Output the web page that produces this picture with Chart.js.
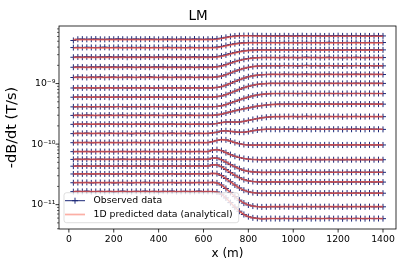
<!DOCTYPE html>
<html><head><meta charset="utf-8">
<script src="https://cdn.jsdelivr.net/npm/chart.js@4"></script>
<style>html,body{margin:0;padding:0;background:#fff;overflow:hidden}</style>
</head><body>
<canvas id="c" width="407" height="271"></canvas>
<script>
// ---------- data ----------
const xObs = [20,40,60,80,100,120,140,160,180,200,220,240,260,280,300,320,340,360,380,400,
  420,440,460,480,500,520,540,560,580,600,620,640,660,680,700,720,740,760,780,800,
  820,840,860,880,900,920,940,960,980,1000,1020,1040,1060,1080,1100,1120,1140,1160,1180,1200,
  1220,1240,1260,1280,1300,1320,1340,1360,1380,1400];
const xPred = [20,100,200,300,400,500,600,620,640,660,680,700,720,740,760,780,800,820,840,860,880,900,920,1000,1100,1200,1300,1400];

const obs01 = [5.15e-9,5.40e-9,5.42e-9,5.38e-9,5.41e-9,5.44e-9,5.39e-9,5.37e-9,5.42e-9,5.40e-9,5.45e-9,5.41e-9,5.38e-9,5.40e-9,5.43e-9,5.39e-9,5.41e-9,5.44e-9,5.40e-9,5.37e-9,5.41e-9,5.43e-9,5.40e-9,5.38e-9,5.42e-9,5.41e-9,5.39e-9,5.44e-9,5.40e-9,5.38e-9,5.41e-9,
  5.40e-9,5.47e-9,5.62e-9,5.80e-9,5.99e-9,6.11e-9,6.19e-9,6.21e-9,6.21e-9,6.19e-9,6.17e-9,6.15e-9,6.14e-9,6.13e-9,
  6.15e-9,6.12e-9,6.16e-9,6.13e-9,6.11e-9,6.15e-9,6.17e-9,6.12e-9,6.14e-9,6.16e-9,6.13e-9,6.11e-9,6.15e-9,6.14e-9,6.18e-9,6.13e-9,6.12e-9,6.15e-9,6.16e-9,6.13e-9,6.14e-9,6.11e-9,6.15e-9,6.13e-9,6.12e-9];
const obs02 = [3.93e-9,3.96e-9,3.94e-9,3.97e-9,3.95e-9,3.93e-9,3.96e-9,3.98e-9,3.94e-9,3.95e-9,3.97e-9,3.93e-9,3.95e-9,3.96e-9,3.94e-9,3.97e-9,3.95e-9,3.93e-9,3.96e-9,3.94e-9,3.95e-9,3.98e-9,3.94e-9,3.96e-9,3.95e-9,3.93e-9,3.97e-9,3.95e-9,3.94e-9,3.96e-9,3.95e-9,
  3.95e-9,3.99e-9,4.10e-9,4.26e-9,4.42e-9,4.55e-9,4.66e-9,4.73e-9,4.77e-9,4.78e-9,4.77e-9,4.76e-9,4.77e-9,4.78e-9,
  4.77e-9,4.75e-9,4.79e-9,4.76e-9,4.78e-9,4.74e-9,4.77e-9,4.79e-9,4.76e-9,4.78e-9,4.75e-9,4.77e-9,4.80e-9,4.76e-9,4.77e-9,4.75e-9,4.78e-9,4.76e-9,4.79e-9,4.77e-9,4.75e-9,4.78e-9,4.76e-9,4.77e-9,4.76e-9];
const obs03 = [2.72e-9,2.75e-9,2.73e-9,2.76e-9,2.74e-9,2.72e-9,2.75e-9,2.74e-9,2.77e-9,2.73e-9,2.74e-9,2.76e-9,2.72e-9,2.75e-9,2.74e-9,2.73e-9,2.76e-9,2.74e-9,2.72e-9,2.75e-9,2.74e-9,2.77e-9,2.73e-9,2.74e-9,2.75e-9,2.72e-9,2.74e-9,2.76e-9,2.73e-9,2.75e-9,2.74e-9,
  2.74e-9,2.78e-9,2.86e-9,2.98e-9,3.13e-9,3.26e-9,3.38e-9,3.47e-9,3.54e-9,3.58e-9,3.61e-9,3.62e-9,3.61e-9,3.60e-9,
  3.61e-9,3.59e-9,3.63e-9,3.60e-9,3.62e-9,3.58e-9,3.61e-9,3.64e-9,3.60e-9,3.62e-9,3.59e-9,3.61e-9,3.63e-9,3.60e-9,3.61e-9,3.58e-9,3.62e-9,3.60e-9,3.63e-9,3.61e-9,3.59e-9,3.62e-9,3.60e-9,3.61e-9,3.60e-9];
const obs04 = [1.86e-9,1.88e-9,1.87e-9,1.85e-9,1.88e-9,1.87e-9,1.89e-9,1.86e-9,1.87e-9,1.88e-9,1.86e-9,1.87e-9,1.89e-9,1.87e-9,1.85e-9,1.88e-9,1.87e-9,1.86e-9,1.88e-9,1.87e-9,1.89e-9,1.86e-9,1.87e-9,1.88e-9,1.86e-9,1.87e-9,1.88e-9,1.85e-9,1.87e-9,1.88e-9,1.87e-9,
  1.87e-9,1.90e-9,1.96e-9,2.06e-9,2.18e-9,2.31e-9,2.42e-9,2.52e-9,2.59e-9,2.65e-9,2.68e-9,2.70e-9,2.71e-9,2.70e-9,
  2.70e-9,2.68e-9,2.72e-9,2.69e-9,2.71e-9,2.67e-9,2.70e-9,2.73e-9,2.69e-9,2.71e-9,2.68e-9,2.70e-9,2.72e-9,2.69e-9,2.70e-9,2.67e-9,2.71e-9,2.69e-9,2.72e-9,2.70e-9,2.68e-9,2.71e-9,2.69e-9,2.70e-9,2.69e-9];
const obs05 = [1.26e-9,1.28e-9,1.27e-9,1.26e-9,1.28e-9,1.27e-9,1.29e-9,1.26e-9,1.27e-9,1.28e-9,1.26e-9,1.27e-9,1.28e-9,1.27e-9,1.26e-9,1.28e-9,1.27e-9,1.29e-9,1.27e-9,1.26e-9,1.28e-9,1.27e-9,1.26e-9,1.28e-9,1.27e-9,1.27e-9,1.28e-9,1.26e-9,1.27e-9,1.28e-9,1.27e-9,
  1.27e-9,1.29e-9,1.33e-9,1.40e-9,1.49e-9,1.60e-9,1.69e-9,1.78e-9,1.85e-9,1.91e-9,1.94e-9,1.96e-9,1.97e-9,1.97e-9,
  1.97e-9,1.96e-9,1.99e-9,1.97e-9,1.98e-9,1.95e-9,1.97e-9,2.00e-9,1.96e-9,1.98e-9,1.96e-9,1.97e-9,1.99e-9,1.96e-9,1.97e-9,1.95e-9,1.98e-9,1.96e-9,1.99e-9,1.97e-9,1.96e-9,1.98e-9,1.96e-9,1.97e-9,1.96e-9];
const obs06 = [8.45e-10,8.52e-10,8.48e-10,8.55e-10,8.47e-10,8.43e-10,8.51e-10,8.49e-10,8.56e-10,8.46e-10,8.50e-10,8.53e-10,8.44e-10,8.49e-10,8.52e-10,8.47e-10,8.55e-10,8.48e-10,8.43e-10,8.51e-10,8.49e-10,8.54e-10,8.46e-10,8.50e-10,8.52e-10,8.45e-10,8.49e-10,8.53e-10,8.47e-10,8.50e-10,8.49e-10,
  8.49e-10,8.62e-10,8.89e-10,9.41e-10,10.06e-10,10.82e-10,11.56e-10,12.29e-10,12.95e-10,13.42e-10,13.77e-10,13.98e-10,14.13e-10,14.20e-10,
  14.20e-10,14.10e-10,14.30e-10,14.15e-10,14.25e-10,14.05e-10,14.20e-10,14.35e-10,14.10e-10,14.25e-10,14.15e-10,14.20e-10,14.30e-10,14.10e-10,14.20e-10,14.05e-10,14.25e-10,14.15e-10,14.30e-10,14.20e-10,14.10e-10,14.25e-10,14.15e-10,14.20e-10,14.10e-10];
const obs07 = [5.95e-10,6.00e-10,5.96e-10,6.02e-10,5.94e-10,5.98e-10,5.97e-10,6.01e-10,5.93e-10,5.97e-10,6.00e-10,5.95e-10,5.99e-10,5.96e-10,6.02e-10,5.97e-10,5.94e-10,5.99e-10,5.97e-10,6.01e-10,5.95e-10,5.98e-10,5.96e-10,6.00e-10,5.97e-10,5.94e-10,5.99e-10,5.97e-10,6.01e-10,5.96e-10,5.97e-10,
  5.97e-10,6.07e-10,6.23e-10,6.56e-10,6.99e-10,7.49e-10,8.01e-10,8.54e-10,9.00e-10,9.39e-10,9.69e-10,9.90e-10,10.00e-10,10.10e-10,
  10.10e-10,10.05e-10,10.15e-10,10.08e-10,10.12e-10,10.03e-10,10.10e-10,10.18e-10,10.06e-10,10.12e-10,10.08e-10,10.10e-10,10.15e-10,10.05e-10,10.10e-10,10.02e-10,10.13e-10,10.07e-10,10.15e-10,10.10e-10,10.05e-10,10.12e-10,10.08e-10,10.10e-10,10.06e-10];
const obs08 = [4.12e-10,4.15e-10,4.13e-10,4.17e-10,4.11e-10,4.14e-10,4.16e-10,4.12e-10,4.15e-10,4.13e-10,4.18e-10,4.14e-10,4.11e-10,4.15e-10,4.13e-10,4.16e-10,4.12e-10,4.14e-10,4.17e-10,4.13e-10,4.15e-10,4.11e-10,4.14e-10,4.16e-10,4.13e-10,4.15e-10,4.12e-10,4.14e-10,4.17e-10,4.13e-10,4.14e-10,
  4.14e-10,4.18e-10,4.29e-10,4.49e-10,4.77e-10,5.06e-10,5.38e-10,5.69e-10,5.98e-10,6.26e-10,6.48e-10,6.65e-10,6.75e-10,6.82e-10,
  6.85e-10,6.82e-10,6.88e-10,6.84e-10,6.87e-10,6.81e-10,6.85e-10,6.90e-10,6.83e-10,6.87e-10,6.84e-10,6.85e-10,6.89e-10,6.82e-10,6.86e-10,6.80e-10,6.87e-10,6.84e-10,6.88e-10,6.85e-10,6.82e-10,6.87e-10,6.84e-10,6.85e-10,6.83e-10];
const obs09 = [2.98e-10,3.01e-10,2.97e-10,3.02e-10,2.99e-10,2.96e-10,3.00e-10,2.98e-10,3.03e-10,2.97e-10,2.99e-10,3.01e-10,2.96e-10,3.00e-10,2.98e-10,3.02e-10,2.97e-10,2.99e-10,3.01e-10,2.98e-10,2.96e-10,3.00e-10,2.99e-10,3.02e-10,2.97e-10,2.99e-10,3.01e-10,2.98e-10,2.97e-10,3.00e-10,2.99e-10,
  2.99e-10,3.03e-10,3.12e-10,3.26e-10,3.40e-10,3.55e-10,3.70e-10,3.83e-10,3.96e-10,4.10e-10,4.23e-10,4.33e-10,4.42e-10,4.50e-10,
  4.54e-10,4.58e-10,4.56e-10,4.60e-10,4.57e-10,4.55e-10,4.59e-10,4.62e-10,4.57e-10,4.59e-10,4.56e-10,4.58e-10,4.61e-10,4.56e-10,4.58e-10,4.55e-10,4.60e-10,4.57e-10,4.60e-10,4.58e-10,4.56e-10,4.59e-10,4.57e-10,4.58e-10,4.57e-10];
const obs10 = [2.12e-10,2.14e-10,2.13e-10,2.15e-10,2.11e-10,2.13e-10,2.14e-10,2.12e-10,2.15e-10,2.13e-10,2.12e-10,2.14e-10,2.13e-10,2.11e-10,2.14e-10,2.13e-10,2.15e-10,2.12e-10,2.13e-10,2.14e-10,2.12e-10,2.13e-10,2.15e-10,2.12e-10,2.13e-10,2.14e-10,2.11e-10,2.13e-10,2.14e-10,2.12e-10,2.13e-10,
  2.15e-10,2.19e-10,2.27e-10,2.32e-10,2.32e-10,2.31e-10,2.32e-10,2.38e-10,2.46e-10,2.55e-10,2.64e-10,2.72e-10,2.78e-10,2.82e-10,
  2.85e-10,2.84e-10,2.86e-10,2.85e-10,2.87e-10,2.83e-10,2.85e-10,2.88e-10,2.84e-10,2.86e-10,2.85e-10,2.84e-10,2.87e-10,2.85e-10,2.86e-10,2.83e-10,2.86e-10,2.85e-10,2.87e-10,2.85e-10,2.84e-10,2.86e-10,2.85e-10,2.85e-10,2.84e-10];
const obs11 = [1.49e-10,1.51e-10,1.50e-10,1.52e-10,1.49e-10,1.50e-10,1.51e-10,1.49e-10,1.52e-10,1.50e-10,1.49e-10,1.51e-10,1.50e-10,1.48e-10,1.51e-10,1.50e-10,1.52e-10,1.49e-10,1.50e-10,1.51e-10,1.49e-10,1.50e-10,1.52e-10,1.49e-10,1.50e-10,1.51e-10,1.48e-10,1.50e-10,1.51e-10,1.49e-10,1.50e-10,
  1.535e-10,1.57e-10,1.645e-10,1.66e-10,1.625e-10,1.59e-10,1.57e-10,1.57e-10,1.61e-10,1.66e-10,1.71e-10,1.74e-10,1.76e-10,1.76e-10,
  1.76e-10,1.75e-10,1.77e-10,1.76e-10,1.78e-10,1.75e-10,1.76e-10,1.78e-10,1.75e-10,1.77e-10,1.76e-10,1.75e-10,1.77e-10,1.76e-10,1.77e-10,1.74e-10,1.77e-10,1.76e-10,1.78e-10,1.76e-10,1.75e-10,1.77e-10,1.76e-10,1.76e-10,1.75e-10];
const obs12 = [10.55e-11,10.65e-11,10.60e-11,10.70e-11,10.52e-11,10.60e-11,10.66e-11,10.55e-11,10.68e-11,10.58e-11,10.62e-11,10.54e-11,10.65e-11,10.60e-11,10.70e-11,10.56e-11,10.62e-11,10.58e-11,10.66e-11,10.53e-11,10.60e-11,10.64e-11,10.57e-11,10.68e-11,10.60e-11,10.55e-11,10.63e-11,10.60e-11,10.66e-11,10.57e-11,10.60e-11,
  10.97e-11,11.49e-11,11.89e-11,11.76e-11,11.22e-11,10.60e-11,10.12e-11,9.83e-11,9.67e-11,9.62e-11,9.65e-11,9.69e-11,9.70e-11,9.70e-11,
  9.70e-11,9.66e-11,9.74e-11,9.69e-11,9.72e-11,9.65e-11,9.70e-11,9.76e-11,9.68e-11,9.72e-11,9.67e-11,9.70e-11,9.75e-11,9.68e-11,9.71e-11,9.64e-11,9.72e-11,9.68e-11,9.74e-11,9.70e-11,9.66e-11,9.72e-11,9.69e-11,9.70e-11,9.68e-11];
const obs13 = [7.50e-11,7.56e-11,7.52e-11,7.58e-11,7.49e-11,7.53e-11,7.57e-11,7.51e-11,7.55e-11,7.48e-11,7.54e-11,7.58e-11,7.52e-11,7.50e-11,7.56e-11,7.53e-11,7.59e-11,7.51e-11,7.54e-11,7.49e-11,7.55e-11,7.52e-11,7.57e-11,7.50e-11,7.53e-11,7.56e-11,7.51e-11,7.54e-11,7.58e-11,7.52e-11,7.53e-11,
  7.97e-11,8.11e-11,7.82e-11,7.23e-11,6.71e-11,6.30e-11,6.01e-11,5.79e-11,5.65e-11,5.57e-11,5.54e-11,5.51e-11,5.52e-11,5.53e-11,
  5.53e-11,5.51e-11,5.55e-11,5.52e-11,5.54e-11,5.50e-11,5.53e-11,5.57e-11,5.52e-11,5.54e-11,5.51e-11,5.53e-11,5.56e-11,5.52e-11,5.53e-11,5.49e-11,5.54e-11,5.52e-11,5.55e-11,5.53e-11,5.51e-11,5.54e-11,5.52e-11,5.53e-11,5.52e-11];
const obs14 = [5.59e-11,5.63e-11,5.60e-11,5.65e-11,5.58e-11,5.61e-11,5.64e-11,5.59e-11,5.62e-11,5.57e-11,5.61e-11,5.65e-11,5.60e-11,5.58e-11,5.63e-11,5.61e-11,5.66e-11,5.59e-11,5.62e-11,5.57e-11,5.63e-11,5.60e-11,5.64e-11,5.58e-11,5.61e-11,5.63e-11,5.59e-11,5.62e-11,5.65e-11,5.60e-11,5.61e-11,
  5.87e-11,5.89e-11,5.53e-11,5.04e-11,4.59e-11,4.22e-11,3.92e-11,3.69e-11,3.55e-11,3.47e-11,3.44e-11,3.41e-11,3.42e-11,3.43e-11,
  3.43e-11,3.41e-11,3.45e-11,3.42e-11,3.44e-11,3.40e-11,3.43e-11,3.46e-11,3.42e-11,3.44e-11,3.41e-11,3.43e-11,3.45e-11,3.42e-11,3.43e-11,3.40e-11,3.44e-11,3.42e-11,3.45e-11,3.43e-11,3.41e-11,3.44e-11,3.42e-11,3.43e-11,3.42e-11];
const obs15 = [4.32e-11,4.36e-11,4.33e-11,4.37e-11,4.31e-11,4.34e-11,4.36e-11,4.32e-11,4.35e-11,4.30e-11,4.34e-11,4.37e-11,4.33e-11,4.31e-11,4.36e-11,4.34e-11,4.38e-11,4.32e-11,4.35e-11,4.31e-11,4.35e-11,4.33e-11,4.37e-11,4.31e-11,4.34e-11,4.36e-11,4.32e-11,4.35e-11,4.37e-11,4.33e-11,4.34e-11,
  4.54e-11,4.54e-11,4.23e-11,3.80e-11,3.39e-11,3.06e-11,2.79e-11,2.59e-11,2.47e-11,2.41e-11,2.38e-11,2.36e-11,2.36e-11,2.37e-11,
  2.37e-11,2.36e-11,2.38e-11,2.36e-11,2.38e-11,2.35e-11,2.37e-11,2.39e-11,2.36e-11,2.38e-11,2.36e-11,2.37e-11,2.39e-11,2.36e-11,2.37e-11,2.35e-11,2.38e-11,2.36e-11,2.38e-11,2.37e-11,2.36e-11,2.38e-11,2.36e-11,2.37e-11,2.36e-11];
const obs16 = [3.21e-11,3.23e-11,3.22e-11,3.25e-11,3.20e-11,3.22e-11,3.24e-11,3.21e-11,3.23e-11,3.19e-11,3.22e-11,3.25e-11,3.21e-11,3.20e-11,3.24e-11,3.22e-11,3.26e-11,3.21e-11,3.23e-11,3.20e-11,3.24e-11,3.22e-11,3.25e-11,3.20e-11,3.22e-11,3.24e-11,3.21e-11,3.23e-11,3.25e-11,3.21e-11,3.22e-11,
  3.29e-11,3.25e-11,3.03e-11,2.70e-11,2.39e-11,2.11e-11,1.89e-11,1.73e-11,1.63e-11,1.58e-11,1.556e-11,1.54e-11,1.545e-11,1.55e-11,
  1.55e-11,1.54e-11,1.56e-11,1.545e-11,1.555e-11,1.535e-11,1.55e-11,1.565e-11,1.54e-11,1.555e-11,1.545e-11,1.55e-11,1.56e-11,1.54e-11,1.55e-11,1.535e-11,1.555e-11,1.545e-11,1.56e-11,1.55e-11,1.54e-11,1.555e-11,1.545e-11,1.55e-11,1.545e-11];
const obs17 = [2.30e-11,2.32e-11,2.31e-11,2.33e-11,2.29e-11,2.31e-11,2.32e-11,2.30e-11,2.33e-11,2.29e-11,2.31e-11,2.33e-11,2.30e-11,2.29e-11,2.32e-11,2.31e-11,2.34e-11,2.30e-11,2.32e-11,2.29e-11,2.32e-11,2.31e-11,2.33e-11,2.29e-11,2.31e-11,2.32e-11,2.30e-11,2.31e-11,2.33e-11,2.30e-11,2.31e-11,
  2.34e-11,2.29e-11,2.11e-11,1.85e-11,1.59e-11,1.36e-11,1.185e-11,1.06e-11,0.986e-11,0.947e-11,0.929e-11,0.917e-11,0.921e-11,0.925e-11,
  0.925e-11,0.920e-11,0.930e-11,0.922e-11,0.928e-11,0.918e-11,0.925e-11,0.932e-11,0.921e-11,0.927e-11,0.922e-11,0.925e-11,0.930e-11,0.921e-11,0.926e-11,0.917e-11,0.927e-11,0.923e-11,0.929e-11,0.925e-11,0.920e-11,0.927e-11,0.922e-11,0.925e-11,0.921e-11];
const obs18 = [1.64e-11,1.66e-11,1.65e-11,1.67e-11,1.64e-11,1.65e-11,1.66e-11,1.64e-11,1.66e-11,1.63e-11,1.65e-11,1.67e-11,1.64e-11,1.64e-11,1.66e-11,1.65e-11,1.67e-11,1.64e-11,1.66e-11,1.63e-11,1.66e-11,1.65e-11,1.67e-11,1.64e-11,1.65e-11,1.66e-11,1.64e-11,1.65e-11,1.67e-11,1.64e-11,1.65e-11,
  1.65e-11,1.62e-11,1.49e-11,1.29e-11,1.08e-11,0.909e-11,0.779e-11,0.688e-11,0.634e-11,0.605e-11,0.594e-11,0.584e-11,0.587e-11,0.590e-11,
  0.590e-11,0.586e-11,0.594e-11,0.588e-11,0.592e-11,0.585e-11,0.590e-11,0.596e-11,0.587e-11,0.592e-11,0.588e-11,0.590e-11,0.595e-11,0.587e-11,0.591e-11,0.584e-11,0.592e-11,0.588e-11,0.594e-11,0.590e-11,0.586e-11,0.592e-11,0.588e-11,0.590e-11,0.587e-11];

const pred01 = [5.30e-9,5.30e-9,5.30e-9,5.30e-9,5.30e-9,5.30e-9,5.30e-9,5.30e-9,5.32e-9,5.40e-9,5.55e-9,5.73e-9,5.92e-9,6.04e-9,6.11e-9,6.13e-9,6.12e-9,6.10e-9,6.08e-9,6.06e-9,6.05e-9,6.05e-9,6.05e-9,6.05e-9,6.05e-9,6.05e-9,6.05e-9,6.05e-9];
const pred02 = [3.88e-9,3.88e-9,3.88e-9,3.88e-9,3.88e-9,3.88e-9,3.88e-9,3.88e-9,3.88e-9,3.93e-9,4.04e-9,4.20e-9,4.36e-9,4.49e-9,4.60e-9,4.67e-9,4.71e-9,4.72e-9,4.71e-9,4.70e-9,4.70e-9,4.70e-9,4.70e-9,4.70e-9,4.70e-9,4.70e-9,4.70e-9,4.70e-9];
const pred03 = [2.70e-9,2.70e-9,2.70e-9,2.70e-9,2.70e-9,2.70e-9,2.70e-9,2.70e-9,2.70e-9,2.74e-9,2.82e-9,2.94e-9,3.09e-9,3.22e-9,3.34e-9,3.43e-9,3.50e-9,3.54e-9,3.56e-9,3.57e-9,3.56e-9,3.56e-9,3.56e-9,3.56e-9,3.56e-9,3.56e-9,3.56e-9,3.56e-9];
const pred04 = [1.85e-9,1.85e-9,1.85e-9,1.85e-9,1.85e-9,1.85e-9,1.85e-9,1.85e-9,1.85e-9,1.88e-9,1.94e-9,2.04e-9,2.16e-9,2.29e-9,2.40e-9,2.50e-9,2.57e-9,2.63e-9,2.66e-9,2.68e-9,2.68e-9,2.68e-9,2.68e-9,2.68e-9,2.68e-9,2.68e-9,2.68e-9,2.68e-9];
const pred05 = [1.27e-9,1.27e-9,1.27e-9,1.27e-9,1.27e-9,1.27e-9,1.27e-9,1.27e-9,1.27e-9,1.29e-9,1.33e-9,1.40e-9,1.49e-9,1.60e-9,1.69e-9,1.78e-9,1.85e-9,1.91e-9,1.94e-9,1.96e-9,1.97e-9,1.97e-9,1.97e-9,1.97e-9,1.97e-9,1.97e-9,1.97e-9,1.97e-9];
const pred06 = [8.49e-10,8.49e-10,8.49e-10,8.49e-10,8.49e-10,8.49e-10,8.49e-10,8.49e-10,8.49e-10,8.62e-10,8.89e-10,9.41e-10,10.06e-10,10.82e-10,11.56e-10,12.29e-10,12.95e-10,13.42e-10,13.77e-10,13.98e-10,14.13e-10,14.20e-10,14.20e-10,14.20e-10,14.20e-10,14.20e-10,14.20e-10,14.20e-10];
const pred07 = [5.97e-10,5.97e-10,5.97e-10,5.97e-10,5.97e-10,5.97e-10,5.97e-10,5.97e-10,5.97e-10,6.07e-10,6.23e-10,6.56e-10,6.99e-10,7.49e-10,8.01e-10,8.54e-10,9.00e-10,9.39e-10,9.69e-10,9.90e-10,10.00e-10,10.10e-10,10.10e-10,10.10e-10,10.10e-10,10.10e-10,10.10e-10,10.10e-10];
const pred08 = [4.14e-10,4.14e-10,4.14e-10,4.14e-10,4.14e-10,4.14e-10,4.14e-10,4.14e-10,4.14e-10,4.18e-10,4.29e-10,4.49e-10,4.77e-10,5.06e-10,5.38e-10,5.69e-10,5.98e-10,6.26e-10,6.48e-10,6.65e-10,6.75e-10,6.82e-10,6.85e-10,6.85e-10,6.85e-10,6.85e-10,6.85e-10,6.85e-10];
const pred09 = [2.99e-10,2.99e-10,2.99e-10,2.99e-10,2.99e-10,2.99e-10,2.99e-10,2.99e-10,2.99e-10,3.03e-10,3.12e-10,3.26e-10,3.40e-10,3.55e-10,3.70e-10,3.83e-10,3.96e-10,4.10e-10,4.23e-10,4.33e-10,4.42e-10,4.50e-10,4.54e-10,4.58e-10,4.58e-10,4.58e-10,4.58e-10,4.58e-10];
const pred10 = [2.13e-10,2.13e-10,2.13e-10,2.13e-10,2.13e-10,2.13e-10,2.13e-10,2.13e-10,2.15e-10,2.19e-10,2.27e-10,2.32e-10,2.32e-10,2.31e-10,2.32e-10,2.38e-10,2.46e-10,2.55e-10,2.64e-10,2.72e-10,2.78e-10,2.82e-10,2.85e-10,2.85e-10,2.85e-10,2.85e-10,2.85e-10,2.85e-10];
const pred11 = [1.50e-10,1.50e-10,1.50e-10,1.50e-10,1.50e-10,1.50e-10,1.50e-10,1.50e-10,1.535e-10,1.57e-10,1.645e-10,1.66e-10,1.625e-10,1.59e-10,1.57e-10,1.57e-10,1.61e-10,1.66e-10,1.71e-10,1.74e-10,1.76e-10,1.76e-10,1.76e-10,1.76e-10,1.76e-10,1.76e-10,1.76e-10,1.76e-10];
const pred12 = [10.6e-11,10.6e-11,10.6e-11,10.6e-11,10.6e-11,10.6e-11,10.6e-11,10.6e-11,10.97e-11,11.49e-11,11.89e-11,11.76e-11,11.22e-11,10.60e-11,10.12e-11,9.83e-11,9.67e-11,9.62e-11,9.65e-11,9.69e-11,9.70e-11,9.70e-11,9.70e-11,9.70e-11,9.70e-11,9.70e-11,9.70e-11,9.70e-11];
const pred13 = [7.53e-11,7.53e-11,7.53e-11,7.53e-11,7.53e-11,7.53e-11,7.53e-11,7.53e-11,7.97e-11,8.11e-11,7.82e-11,7.23e-11,6.71e-11,6.30e-11,6.01e-11,5.79e-11,5.65e-11,5.57e-11,5.54e-11,5.51e-11,5.52e-11,5.53e-11,5.53e-11,5.53e-11,5.53e-11,5.53e-11,5.53e-11,5.53e-11];
const pred14 = [5.61e-11,5.61e-11,5.61e-11,5.61e-11,5.61e-11,5.61e-11,5.61e-11,5.61e-11,5.87e-11,5.89e-11,5.53e-11,5.04e-11,4.59e-11,4.22e-11,3.92e-11,3.69e-11,3.55e-11,3.47e-11,3.44e-11,3.41e-11,3.42e-11,3.43e-11,3.43e-11,3.43e-11,3.43e-11,3.43e-11,3.43e-11,3.43e-11];
const pred15 = [4.34e-11,4.34e-11,4.34e-11,4.34e-11,4.34e-11,4.34e-11,4.34e-11,4.34e-11,4.54e-11,4.54e-11,4.23e-11,3.80e-11,3.39e-11,3.06e-11,2.79e-11,2.59e-11,2.47e-11,2.41e-11,2.38e-11,2.36e-11,2.36e-11,2.37e-11,2.37e-11,2.37e-11,2.37e-11,2.37e-11,2.37e-11,2.37e-11];
const pred16 = [3.22e-11,3.22e-11,3.22e-11,3.22e-11,3.22e-11,3.22e-11,3.22e-11,3.22e-11,3.29e-11,3.25e-11,3.03e-11,2.70e-11,2.39e-11,2.11e-11,1.89e-11,1.73e-11,1.63e-11,1.58e-11,1.556e-11,1.54e-11,1.545e-11,1.55e-11,1.55e-11,1.55e-11,1.55e-11,1.55e-11,1.55e-11,1.55e-11];
const pred17 = [2.31e-11,2.31e-11,2.31e-11,2.31e-11,2.31e-11,2.31e-11,2.31e-11,2.31e-11,2.34e-11,2.29e-11,2.11e-11,1.85e-11,1.59e-11,1.36e-11,1.185e-11,1.06e-11,0.986e-11,0.947e-11,0.929e-11,0.917e-11,0.921e-11,0.925e-11,0.925e-11,0.925e-11,0.925e-11,0.925e-11,0.925e-11,0.925e-11];
const pred18 = [1.65e-11,1.65e-11,1.65e-11,1.65e-11,1.65e-11,1.65e-11,1.65e-11,1.65e-11,1.65e-11,1.62e-11,1.49e-11,1.29e-11,1.08e-11,0.909e-11,0.779e-11,0.688e-11,0.634e-11,0.605e-11,0.594e-11,0.584e-11,0.587e-11,0.590e-11,0.590e-11,0.590e-11,0.590e-11,0.590e-11,0.590e-11,0.590e-11];

const obsSeries = [obs01,obs02,obs03,obs04,obs05,obs06,obs07,obs08,obs09,obs10,obs11,obs12,obs13,obs14,obs15,obs16,obs17,obs18];
const predSeries = [pred01,pred02,pred03,pred04,pred05,pred06,pred07,pred08,pred09,pred10,pred11,pred12,pred13,pred14,pred15,pred16,pred17,pred18];

const xTicks = [0,200,400,600,800,1000,1200,1400];
const xTickLabels = ['0','200','400','600','800','1000','1200','1400'];
const yMajorTicks = [1e-11,1e-10,1e-9];
const yMajorLabels = ['10\u207B\u00B9\u00B9','10\u207B\u00B9\u2070','10\u207B\u2079'];
const yMinorTicks = [4e-12,5e-12,6e-12,7e-12,8e-12,9e-12,2e-11,3e-11,4e-11,5e-11,6e-11,7e-11,8e-11,9e-11,
  2e-10,3e-10,4e-10,5e-10,6e-10,7e-10,8e-10,9e-10,2e-9,3e-9,4e-9,5e-9,6e-9,7e-9,8e-9];
const legendLabels = ['Observed data','1D predicted data (analytical)'];
const titleText = 'LM';
const xTitle = 'x (m)';
const yTitle = '-dB/dt (T/s)';

// ---------- styles ----------
const NAVY = 'rgb(28,40,120)';
const SALMON = 'rgba(248,88,68,0.72)';
const SALMON_LEG = 'rgba(250,95,75,0.5)';
const FONT = 'DejaVu Sans';

const datasets = [];
obsSeries.forEach((s) => {
  datasets.push({
    label: legendLabels[0],
    data: xObs.map((x, i) => ({x, y: s[i]})),
    borderColor: NAVY, borderWidth: 1,
    pointStyle: 'cross', pointRadius: 3, pointBorderWidth: 1,
    pointBorderColor: NAVY, pointBackgroundColor: NAVY,
    order: 2
  });
});
predSeries.forEach((s) => {
  datasets.push({
    label: legendLabels[1],
    data: xPred.map((x, i) => ({x, y: s[i]})),
    borderColor: SALMON, borderWidth: 1.7,
    pointRadius: 0, order: 1
  });
});

const decor = {
  id: 'decor',
  afterDraw(chart) {
    const {ctx, chartArea: a, scales: {x, y}} = chart;
    ctx.save();
    ctx.strokeStyle = '#000';
    ctx.lineWidth = 0.8;
    ctx.beginPath();
    xTicks.forEach(v => { const p = x.getPixelForValue(v); ctx.moveTo(p, a.bottom); ctx.lineTo(p, a.bottom + 3.5); });
    yMajorTicks.forEach(v => { const p = y.getPixelForValue(v); ctx.moveTo(a.left, p); ctx.lineTo(a.left - 3.5, p); });
    ctx.stroke();
    ctx.lineWidth = 0.6;
    ctx.beginPath();
    yMinorTicks.forEach(v => { const p = y.getPixelForValue(v); ctx.moveTo(a.left, p); ctx.lineTo(a.left - 2, p); });
    ctx.stroke();
    ctx.lineWidth = 0.8;
    ctx.strokeRect(a.left, a.top, a.right - a.left, a.bottom - a.top);

    // legend box
    const bx = a.left + 5, by = a.bottom - 36.3, bw = 174.7, bh = 30, r = 2.5;
    ctx.beginPath();
    ctx.moveTo(bx + r, by);
    ctx.arcTo(bx + bw, by, bx + bw, by + bh, r);
    ctx.arcTo(bx + bw, by + bh, bx, by + bh, r);
    ctx.arcTo(bx, by + bh, bx, by, r);
    ctx.arcTo(bx, by, bx + bw, by, r);
    ctx.closePath();
    ctx.fillStyle = 'rgba(255,255,255,0.8)';
    ctx.fill();
    ctx.strokeStyle = 'rgba(204,204,204,0.8)';
    ctx.lineWidth = 0.8;
    ctx.stroke();
    const y1 = by + 8, y2 = by + 21.8, lx0 = bx + 1, lx1 = bx + 21, lm = bx + 11;
    ctx.strokeStyle = NAVY; ctx.lineWidth = 1;
    ctx.beginPath(); ctx.moveTo(lx0, y1); ctx.lineTo(lx1, y1); ctx.stroke();
    ctx.beginPath(); ctx.moveTo(lm - 3, y1); ctx.lineTo(lm + 3, y1); ctx.moveTo(lm, y1 - 3); ctx.lineTo(lm, y1 + 3); ctx.stroke();
    ctx.strokeStyle = SALMON_LEG; ctx.lineWidth = 1.7;
    ctx.beginPath(); ctx.moveTo(lx0, y2); ctx.lineTo(lx1, y2); ctx.stroke();
    ctx.fillStyle = '#000';
    ctx.font = '9.3px "' + FONT + '"';
    ctx.textBaseline = 'middle';
    ctx.textAlign = 'left';
    ctx.fillText(legendLabels[0], bx + 29.5, y1);
    ctx.fillText(legendLabels[1], bx + 29.5, y2);
    ctx.restore();
  }
};

new Chart(document.getElementById('c'), {
  type: 'line',
  data: { datasets },
  plugins: [decor],
  options: {
    responsive: false,
    animation: false,
    devicePixelRatio: 1,
    parsing: false,
    layout: { padding: { left: 0, right: 11, top: 0, bottom: 0 } },
    plugins: {
      legend: { display: false },
      tooltip: { enabled: false },
      title: {
        display: true, text: titleText, color: '#000',
        font: { family: FONT, size: 13.5, weight: 'normal', lineHeight: 1.2 },
        padding: { top: 7.9, bottom: 1.9 }
      }
    },
    scales: {
      x: {
        type: 'linear', min: -44, max: 1458,
        afterBuildTicks: s => { s.ticks = xTicks.map(v => ({value: v})); },
        afterFit: s => { s.height = 42; },
        ticks: {
          autoSkip: false, maxRotation: 0, color: '#000', padding: 4.7,
          font: { family: FONT, size: 9.3 },
          callback: (v) => { const i = xTicks.indexOf(v); return i >= 0 ? xTickLabels[i] : ''; }
        },
        grid: { display: false, drawTicks: false },
        border: { display: false },
        title: { display: true, text: xTitle, color: '#000', font: { family: FONT, size: 12, lineHeight: 1.2 }, padding: { top: 0, bottom: 10.3 } }
      },
      y: {
        type: 'logarithmic', min: 3.96e-12, max: 8.93e-9,
        afterBuildTicks: s => { s.ticks = yMajorTicks.map(v => ({value: v})); },
        afterFit: s => { s.width = 59; },
        ticks: {
          autoSkip: false, color: '#000', padding: 3.5,
          font: { family: FONT, size: 9.3 },
          callback: (v) => { const i = yMajorTicks.findIndex(t => Math.abs(t - v) / t < 1e-6); return i >= 0 ? yMajorLabels[i] : ''; }
        },
        grid: { display: false, drawTicks: false },
        border: { display: false },
        title: { display: true, text: yTitle, color: '#000', font: { family: FONT, size: 14.5, lineHeight: 1.2 }, padding: { top: 3.3, bottom: 0 } }
      }
    }
  }
});
</script>
</body></html>
